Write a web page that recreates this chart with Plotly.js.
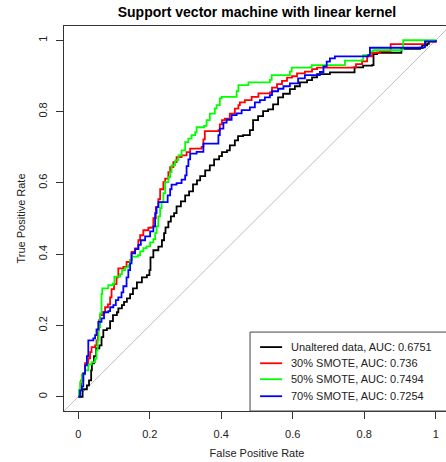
<!DOCTYPE html>
<html>
<head>
<meta charset="utf-8">
<script src="https://cdn.plot.ly/plotly-3.0.1.min.js"></script>
<style>
html, body { margin: 0; padding: 0; overflow: hidden; background: #fff; }
#chart { width: 450px; height: 462px; }
</style>
</head>
<body>
<div id="chart"></div>
<script>
// ROC curves (False Positive Rate, True Positive Rate)
const fprUnaltered = [0,0.005,0.012,0.024,0.030,0.036,0.038,0.044,0.050,0.059,0.065,0.070,0.080,0.089,0.097,0.108,0.112,0.122,0.128,0.136,0.145,0.153,0.164,0.178,0.192,0.199,0.202,0.210,0.224,0.234,0.240,0.244,0.252,0.259,0.268,0.275,0.287,0.299,0.310,0.321,0.332,0.341,0.355,0.368,0.380,0.394,0.402,0.416,0.424,0.438,0.447,0.461,0.480,0.489,0.503,0.517,0.531,0.545,0.559,0.573,0.592,0.606,0.620,0.640,0.654,0.668,0.704,0.769,0.773,0.797,0.822,0.826,0.836,0.900,0.904,0.956,0.962,0.976,0.981,1];
const tprUnaltered = [0,0,0.021,0.032,0.046,0.074,0.094,0.114,0.136,0.144,0.167,0.187,0.192,0.212,0.229,0.237,0.248,0.257,0.266,0.276,0.288,0.304,0.321,0.335,0.341,0.355,0.391,0.411,0.421,0.439,0.459,0.475,0.491,0.506,0.515,0.534,0.548,0.565,0.576,0.596,0.607,0.619,0.635,0.649,0.666,0.675,0.686,0.691,0.705,0.719,0.731,0.734,0.748,0.776,0.787,0.801,0.806,0.820,0.840,0.850,0.863,0.871,0.882,0.888,0.896,0.905,0.910,0.910,0.924,0.929,0.930,0.961,0.965,0.965,0.976,0.979,0.986,0.990,0.997,1];

const fprSmote30 = [0,0.003,0.008,0.014,0.019,0.028,0.033,0.037,0.047,0.051,0.055,0.058,0.061,0.069,0.075,0.083,0.089,0.093,0.100,0.107,0.112,0.126,0.135,0.145,0.149,0.159,0.168,0.173,0.182,0.196,0.203,0.210,0.217,0.224,0.229,0.238,0.243,0.252,0.257,0.266,0.275,0.289,0.303,0.313,0.345,0.350,0.354,0.392,0.396,0.402,0.410,0.424,0.438,0.448,0.452,0.466,0.485,0.504,0.536,0.542,0.556,0.570,0.584,0.598,0.612,0.634,0.654,0.668,0.769,0.777,0.794,0.808,0.822,0.844,0.872,0.874,0.965,0.971,1];
const tprSmote30 = [0,0.018,0.046,0.066,0.094,0.108,0.125,0.139,0.144,0.158,0.187,0.215,0.229,0.237,0.251,0.259,0.279,0.302,0.316,0.335,0.360,0.364,0.378,0.383,0.406,0.416,0.439,0.453,0.467,0.474,0.475,0.501,0.532,0.554,0.582,0.602,0.612,0.630,0.644,0.658,0.672,0.677,0.686,0.696,0.701,0.722,0.745,0.748,0.764,0.776,0.780,0.794,0.808,0.818,0.826,0.832,0.841,0.851,0.854,0.867,0.877,0.886,0.895,0.899,0.907,0.912,0.919,0.923,0.924,0.933,0.941,0.955,0.965,0.969,0.971,0.989,0.989,0.996,1];

const fprSmote50 = [0,0.002,0.005,0.010,0.019,0.028,0.037,0.047,0.051,0.054,0.057,0.061,0.065,0.067,0.079,0.084,0.097,0.101,0.117,0.122,0.131,0.140,0.145,0.150,0.167,0.173,0.182,0.191,0.201,0.210,0.215,0.219,0.224,0.229,0.233,0.238,0.243,0.252,0.257,0.261,0.271,0.280,0.289,0.299,0.308,0.317,0.327,0.331,0.352,0.359,0.368,0.382,0.387,0.396,0.401,0.438,0.443,0.448,0.476,0.536,0.541,0.592,0.597,0.648,0.653,0.741,0.746,0.793,0.797,0.816,0.825,0.906,0.909,1];
const tprSmote50 = [0,0.018,0.041,0.063,0.074,0.091,0.097,0.107,0.130,0.158,0.195,0.234,0.288,0.304,0.304,0.313,0.317,0.337,0.344,0.355,0.362,0.369,0.383,0.393,0.397,0.408,0.417,0.422,0.433,0.442,0.459,0.478,0.506,0.529,0.546,0.571,0.602,0.616,0.630,0.649,0.663,0.677,0.691,0.714,0.724,0.734,0.742,0.756,0.760,0.776,0.794,0.809,0.818,0.837,0.841,0.841,0.857,0.874,0.882,0.889,0.902,0.912,0.923,0.924,0.930,0.930,0.943,0.944,0.958,0.969,0.972,0.975,1,1];

const fprSmote70 = [0,0.005,0.010,0.014,0.019,0.024,0.028,0.042,0.047,0.051,0.056,0.065,0.072,0.084,0.089,0.098,0.105,0.112,0.121,0.126,0.135,0.140,0.145,0.149,0.159,0.168,0.175,0.187,0.201,0.210,0.215,0.219,0.224,0.245,0.250,0.257,0.261,0.275,0.289,0.299,0.303,0.308,0.313,0.331,0.350,0.388,0.392,0.396,0.406,0.415,0.429,0.443,0.457,0.480,0.494,0.508,0.522,0.536,0.542,0.559,0.574,0.592,0.615,0.634,0.676,0.686,0.695,0.704,0.718,0.811,0.816,0.965,0.970,1];
const tprSmote70 = [0,0.018,0.029,0.065,0.088,0.114,0.158,0.164,0.173,0.189,0.210,0.220,0.237,0.240,0.251,0.257,0.271,0.279,0.293,0.310,0.335,0.355,0.374,0.402,0.414,0.426,0.439,0.450,0.464,0.478,0.515,0.532,0.546,0.546,0.565,0.582,0.595,0.599,0.609,0.621,0.647,0.666,0.682,0.687,0.710,0.710,0.734,0.752,0.769,0.777,0.790,0.795,0.804,0.812,0.826,0.832,0.840,0.846,0.857,0.864,0.871,0.879,0.893,0.902,0.911,0.927,0.940,0.949,0.955,0.958,0.979,0.980,0.997,1];

const seriesNames = ["Unaltered data, AUC: 0.6751", "30% SMOTE, AUC: 0.736", "50% SMOTE, AUC: 0.7494", "70% SMOTE, AUC: 0.7254"];
const seriesColors = ["#000000", "#ff0000", "#00ff00", "#0000ff"];
const tickValues = [0, 0.2, 0.4, 0.6, 0.8, 1];
const tickLabels = ["0", "0.2", "0.4", "0.6", "0.8", "1"];
const chanceLine = [-0.04, 1.04];

const FONT = "Liberation Sans, Arial, Helvetica, sans-serif";
const xs = [fprUnaltered, fprSmote30, fprSmote50, fprSmote70];
const ys = [tprUnaltered, tprSmote30, tprSmote50, tprSmote70];

const traces = [{
  x: chanceLine, y: chanceLine, mode: "lines", type: "scatter",
  line: {color: "#bebebe", width: 1}, hoverinfo: "skip", showlegend: false
}];
for (let i = 0; i < 4; i++) {
  traces.push({
    x: xs[i], y: ys[i], name: seriesNames[i], type: "scatter", mode: "lines",
    line: {color: seriesColors[i], width: 1.8, shape: "hv"}, showlegend: false
  });
}

// Legend drawn in R style: box, short line keys and text
const legRows = [0.166, 0.124, 0.0826, 0.0384];
const shapes = [{
  type: "rect", xref: "paper", yref: "paper", x0: 0.482, x1: 1.02, y0: 0, y1: 0.205,
  line: {color: "#444", width: 1}, fillcolor: "#ffffff", layer: "above"
}];
const annotations = [];
for (let i = 0; i < 4; i++) {
  shapes.push({
    type: "line", xref: "paper", yref: "paper", x0: 0.508, x1: 0.565, y0: legRows[i], y1: legRows[i],
    line: {color: seriesColors[i], width: 1.8}, layer: "above"
  });
  annotations.push({
    xref: "paper", yref: "paper", x: 0.584, y: legRows[i], xanchor: "left", yanchor: "middle",
    text: seriesNames[i], showarrow: false, font: {family: FONT, size: 11, color: "#222"}
  });
}

const axisCommon = {
  range: [-0.04, 1.04], showgrid: false, zeroline: false,
  showline: true, mirror: true, linecolor: "#333", linewidth: 1,
  ticks: "outside", ticklen: 7, tickcolor: "#333", tickwidth: 1,
  tickvals: tickValues, ticktext: tickLabels,
  tickfont: {family: FONT, size: 11, color: "#222"}
};

const layout = {
  width: 450, height: 462,
  margin: {l: 64, r: 0, t: 26, b: 51, pad: 0},
  paper_bgcolor: "#ffffff", plot_bgcolor: "#ffffff",
  title: {
    text: "Support vector machine with linear kernel",
    font: {family: FONT, size: 14, color: "#000", weight: 700},
    x: 257 / 450, xanchor: "center", xref: "container",
    y: 1 - 12 / 462, yanchor: "middle", yref: "container"
  },
  xaxis: Object.assign({}, axisCommon, {
    ticklabelstandoff: 6,
    title: {text: "False Positive Rate", font: {family: FONT, size: 11, color: "#222"}, standoff: 10}
  }),
  yaxis: Object.assign({}, axisCommon, {
    tickangle: -90,
    ticklabelstandoff: 5,
    title: {text: "True Positive Rate", font: {family: FONT, size: 11, color: "#222"}, standoff: 8}
  }),
  shapes: shapes,
  annotations: annotations,
  showlegend: false
};

Plotly.newPlot("chart", traces, layout, {staticPlot: true, displayModeBar: false});
</script>
</body>
</html>
